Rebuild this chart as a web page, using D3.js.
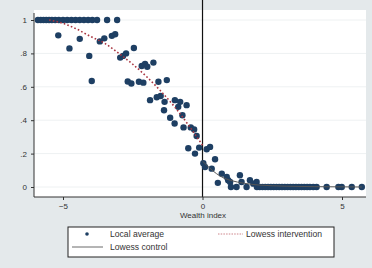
<!DOCTYPE html>
<html>
<head>
<meta charset="utf-8">
<script src="https://cdn.jsdelivr.net/npm/d3@7"></script>
<style>
  body { margin: 0; background: #e4e9eb; }
  svg { display: block; font-family: "Liberation Sans", Arial, sans-serif; }
</style>
</head>
<body>
<svg id="chart" width="372" height="268"></svg>
<script>
// local averages (wealth index, share)
const avgX = [
  -5.9, -5.8, -5.7, -5.6, -5.5, -5.4, -5.28, -5.15, -5.0, -4.85, -4.7, -4.55, -4.4, -4.25, -4.1, -3.95, -3.78, -3.42, -3.06,
  -5.17, -4.77, -4.4, -4.06, -3.97, -3.68, -3.52, -3.25, -3.13,
  -2.95, -2.85, -2.74, -2.46, -2.68, -2.55, -2.28, -2.12,
  -2.18, -2.06, -1.98, -1.76, -1.58, -1.28,
  -1.88, -1.64, -1.5, -1.36, -0.99, -0.8, -0.57,
  -1.38, -0.87, -1.16, -0.72, -1.0, -0.68, -0.42, -0.3,
  -0.21, -0.51, -0.12, -0.27, 0.15, 0.27,
  0.03, 0.09, 0.33, 0.45,
  0.69, 0.87, 0.92, 0.55, 1.34,
  0.99, 1.4, 1.7, 1.94, 1.82,
  1.02, 1.22, 1.58, 1.95, 2.05, 2.15, 2.25, 2.35, 2.45, 2.55, 2.65, 2.75, 2.85, 2.95, 3.05, 3.15, 3.25,
  3.35, 3.45, 3.55, 3.65, 3.75, 3.85, 3.97, 4.09, 4.45, 4.87, 4.99, 5.35, 5.71
];
const avgY = [
  1, 1, 1, 1, 1, 1, 1, 1, 1, 1, 1, 1, 1, 1, 1, 1, 1, 1, 1,
  0.908, 0.83, 0.887, 0.785, 0.635, 0.872, 0.89, 0.905, 0.915,
  0.775, 0.785, 0.8, 0.832, 0.632, 0.62, 0.63, 0.625,
  0.725, 0.737, 0.72, 0.745, 0.63, 0.64,
  0.52, 0.537, 0.545, 0.51, 0.52, 0.51, 0.49,
  0.46, 0.48, 0.415, 0.43, 0.38, 0.357, 0.357, 0.345,
  0.305, 0.232, 0.236, 0.2, 0.226, 0.24,
  0.142, 0.12, 0.11, 0.166,
  0.08, 0.06, 0.04, 0.025, 0.07,
  0.03, 0.03, 0.04, 0.03, 0.02,
  0, 0, 0, 0, 0, 0, 0, 0, 0, 0, 0, 0, 0, 0, 0, 0, 0,
  0, 0, 0, 0, 0, 0, 0, 0, 0, 0, 0, 0, 0
];

// lowess fits
const intX = [-5.5, -5.0, -4.5, -4.0, -3.5, -3.0, -2.5, -2.0, -1.5, -1.0, -0.5, 0.0];
const intY = [1.0, 0.98, 0.945, 0.9, 0.86, 0.8, 0.735, 0.66, 0.575, 0.48, 0.37, 0.25];
const ctlX = [0.0, 0.25, 0.5, 0.75, 1.0, 1.5, 2.0, 3.0, 4.0, 5.71];
const ctlY = [0.155, 0.115, 0.08, 0.055, 0.04, 0.022, 0.012, 0.005, 0.002, 0.0];

const xTicks = [-5, 0, 5];
const yTicks = [0, 0.2, 0.4, 0.6, 0.8, 1];
const yTickLabels = ["0", ".2", ".4", ".6", ".8", "1"];

const svg = d3.select("#chart");
const plotLeft = 34, plotRight = 366, plotTop = 10, plotBottom = 197;

let x = d3.scaleLinear().domain([-6.04, 5.86]).range([plotLeft, plotRight]);
let y = d3.scaleLinear().domain([0, 1]).range([187, 20]);

// plot region
svg.append("rect")
  .attr("x", plotLeft).attr("y", plotTop)
  .attr("width", plotRight - plotLeft).attr("height", plotBottom - plotTop)
  .attr("fill", "#ffffff");

// faint grid
svg.append("g").selectAll("line")
  .data(yTicks)
  .enter().append("line")
  .attr("x1", plotLeft).attr("x2", plotRight)
  .attr("y1", d => y(d)).attr("y2", d => y(d))
  .attr("stroke", "#eef1f2").attr("stroke-width", 1);

// cutoff line
svg.append("line")
  .attr("x1", x(0)).attr("x2", x(0))
  .attr("y1", 0).attr("y2", plotBottom)
  .attr("stroke", "#111").attr("stroke-width", 1.2);

// points
let pts = avgX.map((d, i) => [d, avgY[i]]);
svg.append("g").selectAll("circle")
  .data(pts)
  .enter().append("circle")
  .attr("cx", d => x(d[0]))
  .attr("cy", d => y(d[1]))
  .attr("r", 3.2)
  .attr("fill", "#1e3f63");

let line = d3.line().x(d => x(d[0])).y(d => y(d[1])).curve(d3.curveMonotoneX);

svg.append("path")
  .datum(ctlX.map((d, i) => [d, ctlY[i]]))
  .attr("d", line)
  .attr("fill", "none")
  .attr("stroke", "#555")
  .attr("stroke-width", 1);

svg.append("path")
  .datum(intX.map((d, i) => [d, intY[i]]))
  .attr("d", line)
  .attr("fill", "none")
  .attr("stroke", "#a8343f")
  .attr("stroke-width", 1.6)
  .attr("stroke-dasharray", "1.6,2.2");

// y axis
let yAxis = d3.axisLeft(y).tickValues(yTicks).tickSize(3)
  .tickFormat((d, i) => yTickLabels[i]);
let gy = svg.append("g").attr("transform", "translate(" + plotLeft + ",0)").call(yAxis);
gy.select(".domain").attr("d", "M0," + 13 + "V" + plotBottom).attr("stroke", "#333");
gy.selectAll("text").attr("font-size", "8px").attr("fill", "#333").attr("x", -7);
gy.selectAll(".tick line").attr("stroke", "#333");

// x axis
let xAxis = d3.axisBottom(x).tickValues(xTicks).tickSize(3).tickFormat(d3.format("d"));
let gx = svg.append("g").attr("transform", "translate(0," + plotBottom + ")").call(xAxis);
gx.select(".domain").attr("d", "M" + plotLeft + ",0H" + plotRight).attr("stroke", "#333");
gx.selectAll("text").attr("font-size", "8px").attr("fill", "#333").attr("y", 6);
gx.selectAll(".tick line").attr("stroke", "#333");

svg.append("text")
  .attr("x", 203).attr("y", 218)
  .attr("text-anchor", "middle")
  .attr("font-size", "8px")
  .attr("fill", "#333")
  .text("Wealth index");

// legend
let legend = svg.append("g");
legend.append("rect")
  .attr("x", 68).attr("y", 227).attr("width", 266).attr("height", 30)
  .attr("fill", "#fff").attr("stroke", "#222").attr("stroke-width", 1);
legend.append("circle").attr("cx", 87).attr("cy", 234).attr("r", 1.8).attr("fill", "#1e3f63");
legend.append("text").attr("x", 110).attr("y", 237).attr("font-size", "8.6px").attr("fill", "#333").text("Local average");
legend.append("line").attr("x1", 218).attr("x2", 243).attr("y1", 234).attr("y2", 234)
  .attr("stroke", "#c0646c").attr("stroke-width", 0.8).attr("stroke-dasharray", "1.5,1.2");
legend.append("text").attr("x", 246).attr("y", 237).attr("font-size", "8.6px").attr("fill", "#333").text("Lowess intervention");
legend.append("line").attr("x1", 72).attr("x2", 103).attr("y1", 247).attr("y2", 247)
  .attr("stroke", "#444").attr("stroke-width", 0.8);
legend.append("text").attr("x", 110).attr("y", 250).attr("font-size", "8.6px").attr("fill", "#333").text("Lowess control");
</script>
</body>
</html>
